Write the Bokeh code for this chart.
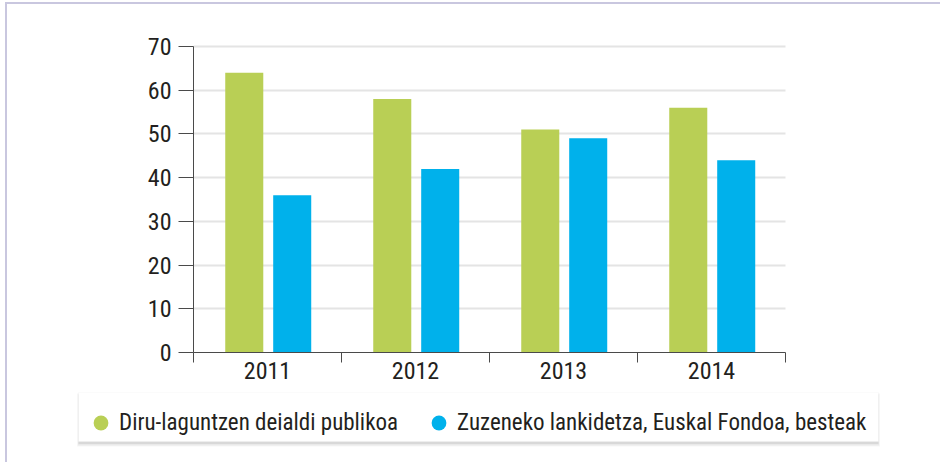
from bokeh.plotting import figure
from bokeh.models import (ColumnDataSource, Range1d, FixedTicker, Legend, LegendItem, BoxAnnotation)
from bokeh.core.properties import value
from bokeh.transform import dodge
from bokeh.embed import file_html
from bokeh.resources import INLINE

# ---- data ----
years = ["2011", "2012", "2013", "2014"]
public_calls = [64, 58, 51, 56]          # Diru-laguntzen deialdi publikoa
direct_coop = [36, 42, 49, 44]           # Zuzeneko lankidetza, Euskal Fondoa, besteak
series_labels = ["Diru-laguntzen deialdi publikoa",
                 "Zuzeneko lankidetza, Euskal Fondoa, besteak"]
y_ticks = [0, 10, 20, 30, 40, 50, 60, 70]

GREEN = "#b9cf55"
BLUE = "#00b1eb"
TEXT = "#231f20"
AXIS = "#4a4a4a"
FONT = "'Liberation Sans Narrow', 'Roboto Condensed', Roboto"

n = len(years)
centers = [i + 0.5 for i in range(n)]     # category slot centres
edges = list(range(n + 1))                # category slot boundaries
y_max = y_ticks[-1]

# ---- layout (pixels on the canvas) ----
W, H = 935, 460
F_LEFT, F_RIGHT, F_TOP, F_BOTTOM = 60, 930, 15, 452     # frame edges
AX_X0, AX_X1, AX_Y0, AX_YTOP = 186, 778, 348, 42         # where x=0, x=n, y=0, y=y_max fall
px_x = (AX_X1 - AX_X0) / n
px_y = (AX_Y0 - AX_YTOP) / y_max
x_range = Range1d(-(AX_X0 - F_LEFT) / px_x, n + (F_RIGHT - AX_X1) / px_x)
y_range = Range1d(-(F_BOTTOM - AX_Y0) / px_y, y_max + (AX_YTOP - F_TOP) / px_y)


def dx(px):
    return (px - AX_X0) / px_x


def dy(py):
    return (AX_Y0 - py) / px_y


source = ColumnDataSource(dict(x=centers, year=years, a=public_calls, b=direct_coop))

p = figure(width=W, height=H, output_backend="svg", toolbar_location=None,
           x_range=x_range, y_range=y_range,
           min_border_left=F_LEFT, min_border_right=W - F_RIGHT,
           min_border_top=F_TOP, min_border_bottom=H - F_BOTTOM)
p.margin = (2, 0, 0, 5)
p.styles = {"border-top": "2px solid #c9c7df", "border-left": "2px solid #c9c7df"}
p.outline_line_color = None
p.background_fill_color = "white"
p.border_fill_color = "white"

bar_w = 0.257
p.vbar(x=dodge("x", -0.157), top="a", width=bar_w, source=source,
       fill_color=GREEN, line_color=None)
p.vbar(x=dodge("x", 0.167), top="b", width=bar_w, source=source,
       fill_color=BLUE, line_color=None)

# grid
p.xgrid.grid_line_color = None
p.ygrid.ticker = FixedTicker(ticks=y_ticks[1:])
p.ygrid.cross_bounds = (0, n)
p.ygrid.grid_line_color = "#e4e4e4"
p.ygrid.grid_line_width = 2

# y axis (at x = 0)
ya = p.yaxis[0]
ya.fixed_location = 0
ya.bounds = (0, y_max)
ya.ticker = FixedTicker(ticks=y_ticks)
ya.major_tick_out = 15
ya.major_tick_in = 0
ya.minor_tick_line_color = None
ya.axis_line_color = AXIS
ya.major_tick_line_color = AXIS
ya.major_label_standoff = 7
ya.major_label_text_font = FONT
ya.major_label_text_font_size = "24px"
ya.major_label_text_color = TEXT

# x axis (at y = 0): line + tick marks at category boundaries
xa = p.xaxis[0]
xa.fixed_location = 0
xa.bounds = (0, n)
xa.ticker = FixedTicker(ticks=edges)
xa.major_label_overrides = {e: "" for e in edges}
xa.major_label_text_font_size = "1px"
xa.major_label_standoff = 0
xa.major_tick_out = 10
xa.major_tick_in = 0
xa.major_tick_line_color = AXIS
xa.minor_tick_line_color = None
xa.axis_line_color = AXIS

# category labels
p.text(x="x", y=0, text="year", source=source, y_offset=9,
       text_align="center", text_baseline="top",
       text_font=value(FONT), text_font_size="24px", text_color=TEXT)

# legend box with a soft drop shadow
L_LEFT, L_RIGHT, L_TOP, L_BOTTOM = 71, 871, 388, 437
for (l, r, t, b, a) in [(69.5, 872.5, 389, 442, 0.035), (70.5, 871.5, 389, 441, 0.05),
                        (71, 871, 390, 439.5, 0.07)]:
    p.add_layout(BoxAnnotation(left=dx(l), right=dx(r), top=dy(t), bottom=dy(b),
                               fill_color="black", fill_alpha=a, line_color=None,
                               level="underlay"))
p.add_layout(BoxAnnotation(left=dx(L_LEFT), right=dx(L_RIGHT), top=dy(L_TOP), bottom=dy(L_BOTTOM),
                           fill_color="white", fill_alpha=1.0, line_color="#f2f2f2",
                           line_width=1, level="underlay"))

# legend (circle markers; the markers themselves are hidden in the plot)
ra = p.scatter(x=dodge("x", -0.157), y="a", source=source, size=0, marker="circle",
               fill_color=GREEN, line_color=None)
rb = p.scatter(x=dodge("x", 0.167), y="b", source=source, size=0, marker="circle",
               fill_color=BLUE, line_color=None)
legend = Legend(items=[LegendItem(label=series_labels[0], renderers=[ra]),
                       LegendItem(label=series_labels[1], renderers=[rb])],
                orientation="horizontal",
                location=(L_LEFT - F_LEFT + 4, F_BOTTOM - L_BOTTOM),
                glyph_width=37, glyph_height=37, label_standoff=-4, spacing=22,
                padding=6, margin=0,
                label_text_font=FONT, label_text_font_size="23px", label_text_color=TEXT,
                border_line_color=None, background_fill_alpha=0.0)
p.add_layout(legend, "center")

open("out.html", "w").write(file_html(p, INLINE))
